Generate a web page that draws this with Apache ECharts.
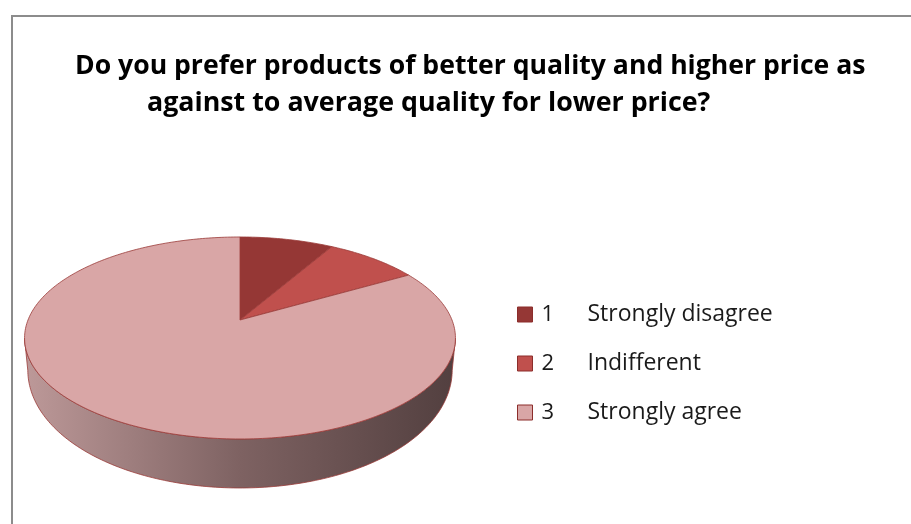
<!DOCTYPE html>
<html>
<head>
<meta charset="utf-8">
<script src="https://cdn.jsdelivr.net/npm/echarts@6/dist/echarts.min.js"></script>
<style>
html,body{margin:0;padding:0;background:#fff;}
#main{width:911px;height:524px;}
</style>
</head>
<body>
<div id="main"></div>
<script>
var categories = ['1', '2', '3'];
var labels = ['Strongly disagree', 'Indifferent', 'Strongly agree'];
var values = [5, 5, 50];
var colors = ['#953735', '#c0504d', '#d9a6a6'];
var titleLines = ['Do you prefer products of better quality and higher price as',
    'against to average quality for lower price?'];

// fake 3d pie: perspective projection of a flat disk
var CX = 240, CY = 320, RX = 212, RY = 97.8, K = 0.178;
function proj(deg, r, bottom) {
    var t = deg * Math.PI / 180;
    var u = r * Math.sin(t), v = r * Math.cos(t);
    var s = 1 / (1 + K * v);
    var x = CX + RX * u * s, y = CY - RY * v * s;
    if (bottom) {
        x = CX + (x - CX) * 0.985;
        y += 28 - 21 * v;
    }
    return [x, y];
}
// angles where the top ellipse is widest (silhouette of the wall)
var silR = 90, silL = 270, maxX = -1e9, minX = 1e9;
for (var a = 0; a <= 360; a += 0.5) {
    var p = proj(a, 1);
    if (p[0] > maxX) { maxX = p[0]; silR = a; }
    if (p[0] < minX) { minX = p[0]; silL = a; }
}

var total = values.reduce(function (s, v) { return s + v; }, 0);
var starts = [], acc = 0;
values.forEach(function (v) { starts.push(acc / total * 360); acc += v; });

var wallFill = new echarts.graphic.LinearGradient(0, 0, 1, 0, [
    {offset: 0, color: '#bd9999'},
    {offset: 0.5, color: '#7e6262'},
    {offset: 1, color: '#523f3f'}
]);

function makeRender(idx) {
    return function (params, api) {
        var a0 = starts[idx];
        var a1 = a0 + api.value(0) / total * 360;
        var children = [];
        // top face
        var top = [proj(a0, 0)];
        for (var a = a0; a < a1; a += 1) top.push(proj(a, 1));
        top.push(proj(a1, 1));
        children.push({
            type: 'polygon', z2: 10,
            shape: {points: top},
            style: {fill: colors[idx], stroke: '#9a3b39', lineWidth: 0.8}
        });
        // front wall
        var w0 = Math.max(a0, silR), w1 = Math.min(a1, silL);
        if (w1 > w0) {
            var pts = [];
            for (var b = w0; b < w1; b += 1) pts.push(proj(b, 1));
            pts.push(proj(w1, 1));
            pts.push(proj(w1, 1, true));
            for (var c = w1; c > w0; c -= 1) pts.push(proj(c, 1, true));
            pts.push(proj(w0, 1, true));
            children.push({
                type: 'polygon', z2: 1,
                shape: {points: pts},
                style: {fill: wallFill, stroke: '#9a3b39', lineWidth: 0.8}
            });
        }
        return {type: 'group', children: children};
    };
}

var series = categories.map(function (name, i) {
    return {
        name: name,
        type: 'custom',
        coordinateSystem: 'none',
        itemStyle: {color: colors[i]},
        renderItem: makeRender(i),
        data: [[values[i]]],
        silent: true
    };
});

var chart = echarts.init(document.getElementById('main'));
chart.setOption({
    backgroundColor: '#fff',
    animation: false,
    title: [{
        text: titleLines[0], left: 70, top: 46,
        textStyle: {fontFamily: 'Open Sans', fontWeight: 'bold', fontSize: 26.6, color: '#000', lineHeight: 30}
    }, {
        text: titleLines[1], left: 142, top: 83,
        textStyle: {fontFamily: 'Open Sans', fontWeight: 'bold', fontSize: 26.8, color: '#000', lineHeight: 30}
    }],
    legend: {
        orient: 'vertical',
        left: 512, top: 298,
        itemWidth: 15, itemHeight: 15, itemGap: 26,
        icon: 'rect',
        itemStyle: {borderColor: '#8c2d2b', borderWidth: 1},
        data: categories,
        formatter: function (name) {
            return '{n|' + name + '}{t|' + labels[categories.indexOf(name)] + '}';
        },
        textStyle: {
            fontFamily: 'Open Sans', fontSize: 23, color: '#1a1a1a',
            rich: {
                n: {fontFamily: 'Open Sans', fontSize: 22, width: 46, padding: [0, 0, 0, 4], lineHeight: 25},
                t: {fontFamily: 'Open Sans', fontSize: 23, lineHeight: 25}
            }
        }
    },
    graphic: [{
        type: 'rect', silent: true,
        shape: {x: 12, y: 16, width: 1000, height: 600},
        style: {fill: 'none', stroke: '#8c8c8c', lineWidth: 2}
    }],
    series: series
});
</script>
</body>
</html>
